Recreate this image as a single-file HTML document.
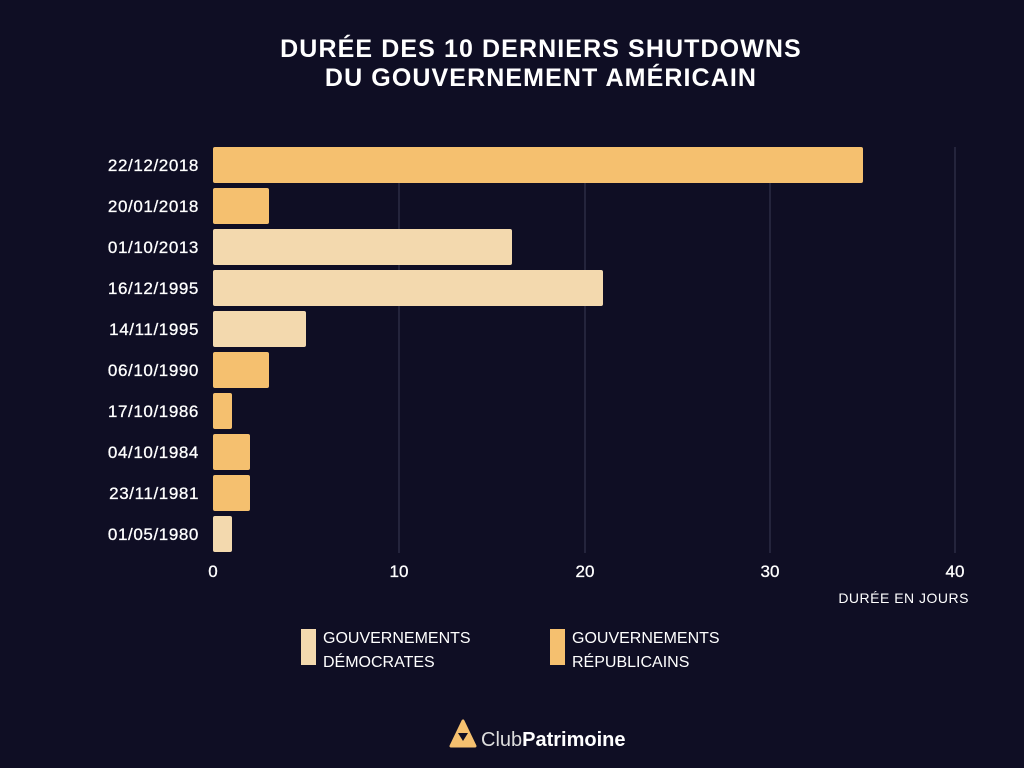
<!DOCTYPE html>
<html><head><meta charset="utf-8"><style>
html,body{margin:0;padding:0;background:#0f0e24;}
svg{display:block;font-family:"Liberation Sans",sans-serif;}
</style></head><body>
<svg width="1024" height="768" viewBox="0 0 1024 768">
<rect width="1024" height="768" fill="#0f0e24"/>
<text x="541" y="57" fill="#fff" font-size="25" font-weight="bold" text-anchor="middle" letter-spacing="1.1">DURÉE DES 10 DERNIERS SHUTDOWNS</text>
<text x="541" y="86" fill="#fff" font-size="25" font-weight="bold" text-anchor="middle" letter-spacing="1.1">DU GOUVERNEMENT AMÉRICAIN</text>
<g stroke="#3a3a55" stroke-width="1">
<line x1="399" y1="147" x2="399" y2="553"/>
<line x1="585" y1="147" x2="585" y2="553"/>
<line x1="770" y1="147" x2="770" y2="553"/>
<line x1="955" y1="147" x2="955" y2="553"/>
</g>
<g>
<rect x="213" y="147" width="650" height="36" rx="2" fill="#f5c06f"/>
<rect x="213" y="188" width="56" height="36" rx="2" fill="#f5c06f"/>
<rect x="213" y="229" width="299" height="36" rx="2" fill="#f3d9ae"/>
<rect x="213" y="270" width="390" height="36" rx="2" fill="#f3d9ae"/>
<rect x="213" y="311" width="93" height="36" rx="2" fill="#f3d9ae"/>
<rect x="213" y="352" width="56" height="36" rx="2" fill="#f5c06f"/>
<rect x="213" y="393" width="19" height="36" rx="2" fill="#f5c06f"/>
<rect x="213" y="434" width="37" height="36" rx="2" fill="#f5c06f"/>
<rect x="213" y="475" width="37" height="36" rx="2" fill="#f5c06f"/>
<rect x="213" y="516" width="19" height="36" rx="2" fill="#f3d9ae"/>
</g>
<g fill="#fff" font-size="17" text-anchor="end" letter-spacing="0.6" stroke="#fff" stroke-width="0.3">
<text x="199" y="171">22/12/2018</text>
<text x="199" y="212">20/01/2018</text>
<text x="199" y="253">01/10/2013</text>
<text x="199" y="294">16/12/1995</text>
<text x="199" y="335">14/11/1995</text>
<text x="199" y="376">06/10/1990</text>
<text x="199" y="417">17/10/1986</text>
<text x="199" y="458">04/10/1984</text>
<text x="199" y="499">23/11/1981</text>
<text x="199" y="540">01/05/1980</text>
</g>
<g fill="#fff" font-size="17" text-anchor="middle" stroke="#fff" stroke-width="0.3">
<text x="213" y="577">0</text>
<text x="399" y="577">10</text>
<text x="585" y="577">20</text>
<text x="770" y="577">30</text>
<text x="955" y="577">40</text>
</g>
<text x="969" y="603" fill="#fff" font-size="14" text-anchor="end" letter-spacing="0.5">DURÉE EN JOURS</text>
<rect x="301" y="629" width="15" height="36" fill="#f3d9ae"/>
<text x="323" y="643" fill="#fff" font-size="16">GOUVERNEMENTS</text>
<text x="323" y="667" fill="#fff" font-size="16">DÉMOCRATES</text>
<rect x="550" y="629" width="15" height="36" fill="#f5c06f"/>
<text x="572" y="643" fill="#fff" font-size="16">GOUVERNEMENTS</text>
<text x="572" y="667" fill="#fff" font-size="16">RÉPUBLICAINS</text>
<polygon points="463,721 451,746 475,746" fill="#f5c06f" stroke="#f5c06f" stroke-width="3" stroke-linejoin="round"/>
<polygon points="458,733 468,733 463,741" fill="#0f0e24"/>
<text x="481" y="746" fill="#ddd" font-size="20">Club<tspan font-weight="bold" fill="#fff">Patrimoine</tspan></text>
</svg>
</body></html>
